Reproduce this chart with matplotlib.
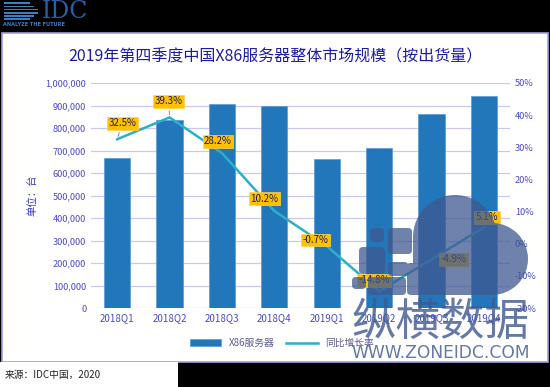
import matplotlib.pyplot as plt
from matplotlib.patches import Rectangle, PathPatch, BoxStyle
from matplotlib.path import Path
from matplotlib.transforms import Affine2D
from matplotlib.ticker import FuncFormatter

plt.rcParams['font.family'] = ['Noto Sans CJK SC', 'DejaVu Sans']

quarters = ['2018Q1', '2018Q2', '2018Q3', '2018Q4', '2019Q1', '2019Q2', '2019Q3', '2019Q4']
shipments = [668000, 836000, 906000, 897000, 663000, 712000, 862000, 942000]
growth = [32.5, 39.3, 28.2, 10.2, -0.7, -14.8, -4.9, 5.1]
# label offsets in pixels (dx, dy) from each point
label_off = [(5, 16), (-1, 16), (-4, 12), (-10, 12), (-11, 6), (-5, 11), (22, 0), (3, 10)]

W, H = 550, 387
fig = plt.figure(figsize=(W / 100, H / 100), dpi=100)
fig.patch.set_facecolor('black')

def fx(px):
    return px / W

def fy(py):
    return 1 - py / H

# white panel + source strip
fig.patches.append(Rectangle((fx(2), fy(362)), fx(546), 329 / H, transform=fig.transFigure,
                             facecolor='white', edgecolor='#A0A0E0', lw=1.2, zorder=-2))
fig.patches.append(Rectangle((0, 0), fx(178), fy(362), transform=fig.transFigure,
                             facecolor='white', edgecolor='none', zorder=-2))

# IDC logo (approximate)
for i in range(6):
    fig.patches.append(Rectangle((fx(4), fy(4 + i * 3.2)), fx(36 - abs(i - 2.5) * 4), 1.6 / H,
                                 transform=fig.transFigure, facecolor='#3A7FC0', edgecolor='none'))
fig.text(fx(42), fy(11), 'IDC', fontsize=17, family='DejaVu Serif', color='#2A5EA8',
         va='center', ha='left')
fig.text(fx(3), fy(25), 'ANALYZE THE FUTURE', fontsize=3.6, color='#3A7FC0', weight='bold',
         va='center', ha='left', family='DejaVu Sans')

fig.text(0.5, fy(57), '2019年第四季度中国X86服务器整体市场规模（按出货量）', ha='center', va='center',
         fontsize=11.5, color='#1C1CA0')
fig.text(fx(5), fy(375), '来源：IDC中国，2020', fontsize=7, color='#222222', va='center')

ax = fig.add_axes([fx(91), fy(308), fx(419), 225 / H])
ax.set_facecolor('none')
x = range(len(quarters))
ax.bar(x, shipments, width=0.5, color='#2277BB', edgecolor='#5A9AD5', lw=0.5, zorder=2,
       label='X86服务器')
ax.set_ylim(0, 1000000)
ax.set_xlim(-0.5, 7.5)
ax.set_yticks(range(0, 1000001, 100000))
ax.yaxis.set_major_formatter(FuncFormatter(lambda v, p: f'{int(v):,}'))
ax.grid(axis='y', color='#C8C8F2', lw=0.9, zorder=0)
ax.set_axisbelow(True)
for s in ax.spines.values():
    s.set_visible(False)
ax.tick_params(length=0, colors='#4A4AC8', labelsize=6.6)
ax.set_xticks(list(x))
ax.set_xticklabels(quarters, fontsize=7)
ax.set_ylabel('单位：台', color='#3A3AC0', fontsize=7.5, labelpad=6)

ax2 = ax.twinx()
ax2.plot(x, growth, color='#2CB0C8', lw=1.8, zorder=3, label='同比增长率')
ax2.set_ylim(-20, 50)
ax2.set_yticks(range(-20, 51, 10))
ax2.yaxis.set_major_formatter(FuncFormatter(lambda v, p: f'{int(v)}%'))
for s in ax2.spines.values():
    s.set_visible(False)
ax2.tick_params(length=0, colors='#4A4AC8', labelsize=6.6)

for i, g in enumerate(growth):
    dx, dy = label_off[i]
    ax2.annotate(f'{g}%', (i, g), xytext=(dx * 0.72, dy * 0.72), textcoords='offset points',
                 ha='center', va='center', fontsize=7, color='#1A1A60', zorder=5,
                 bbox=dict(boxstyle='square,pad=0.15', fc='#FFC000', ec='#FFD24D', lw=0.5),
                 arrowprops=dict(arrowstyle='-', color='#6A6AE0', lw=0.6) if i < 2 else None)

h1, l1 = ax.get_legend_handles_labels()
h2, l2 = ax2.get_legend_handles_labels()
fig.legend(h1 + h2, l1 + l2, loc='center', bbox_to_anchor=(fx(282), fy(343)), ncol=2,
           frameon=False, fontsize=7, labelcolor='#5A5A90', handlelength=3.2, columnspacing=1.2)

# watermark: cloud built as one compound path (pixel coords), so overlaps don't darken
wm = '#3F5890'
parts = [Path.circle((455, 237), 42), Path.circle((492, 259), 36),
         Path([(413, 237), (492, 237), (492, 295), (413, 295), (413, 237)], closed=True)]
rnd = BoxStyle.Round(pad=0, rounding_size=4)
for (bx, by, bw, bh) in [(370, 228, 14, 14), (388, 228, 24, 26), (359, 247, 26, 27),
                         (388, 262, 20, 14), (352, 277, 14, 12), (368, 277, 38, 18),
                         (407, 263, 40, 32)]:
    parts.append(rnd(bx, by, bw, bh, 1))
cloud = Path.make_compound_path(*parts)
to_fig = Affine2D().scale(1 / W, -1 / H).translate(0, 1) + fig.transFigure
fig.patches.append(PathPatch(cloud, transform=to_fig, facecolor=wm, edgecolor='none',
                             alpha=0.75, zorder=10))
fig.text(fx(440), fy(322), '纵横数据', fontsize=32, color=wm, alpha=0.8, ha='center', va='center',
         zorder=11)
fig.text(fx(441), fy(353), 'WWW.ZONEIDC.COM', fontsize=12.3, color=wm, alpha=0.8, ha='center',
         va='center', family='DejaVu Sans', zorder=11)

fig.savefig('out.png', dpi=100, facecolor=fig.get_facecolor())
